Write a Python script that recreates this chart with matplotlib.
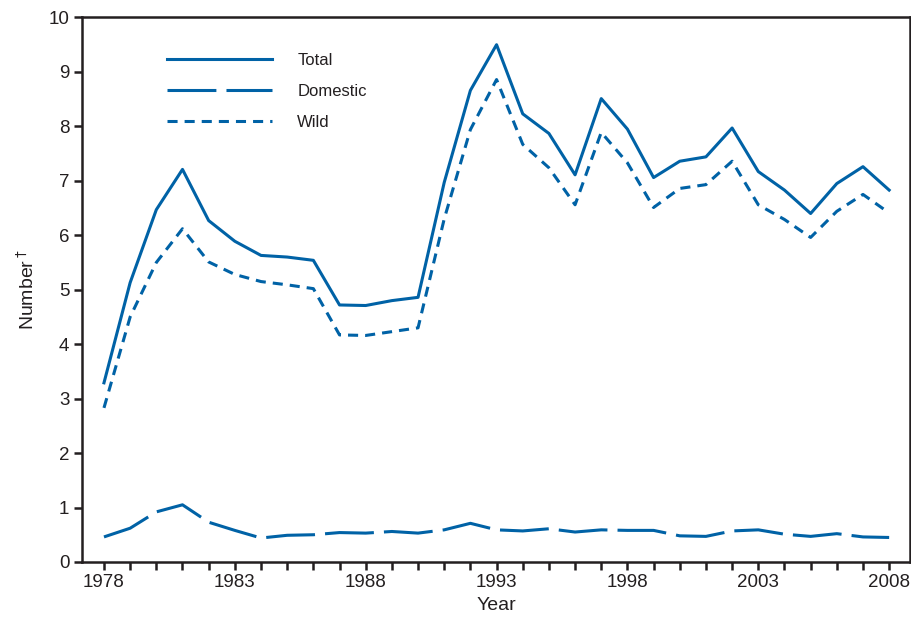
import matplotlib
matplotlib.use("Agg")
import matplotlib.pyplot as plt

plt.rcParams['font.family'] = ['Liberation Sans', 'DejaVu Sans']

years = list(range(1978, 2009))
total = [3.29, 5.13, 6.47, 7.21, 6.27, 5.89, 5.63, 5.60, 5.54, 4.72, 4.71, 4.80, 4.86,
         6.97, 8.66, 9.50, 8.23, 7.87, 7.11, 8.51, 7.95, 7.06, 7.36, 7.44, 7.97, 7.17,
         6.83, 6.40, 6.95, 7.26, 6.83]
domestic = [0.46, 0.62, 0.92, 1.05, 0.73, 0.58, 0.44, 0.49, 0.50, 0.54, 0.53, 0.56, 0.53,
            0.59, 0.71, 0.59, 0.57, 0.61, 0.55, 0.59, 0.58, 0.58, 0.48, 0.47, 0.57, 0.59,
            0.51, 0.47, 0.52, 0.46, 0.45]
wild = [2.83, 4.50, 5.50, 6.12, 5.51, 5.28, 5.15, 5.09, 5.02, 4.17, 4.16, 4.23, 4.30,
        6.30, 7.94, 8.86, 7.67, 7.24, 6.56, 7.89, 7.33, 6.51, 6.86, 6.93, 7.36, 6.56,
        6.29, 5.96, 6.44, 6.75, 6.41]

blue = '#0062a6'
dark = '#231f20'

fig = plt.figure(figsize=(9.12, 6.24), dpi=100)
ax = fig.add_axes([0.0899, 0.0994, 0.908, 0.8726])

lw = 2.2
ax.plot(years, total, color=blue, lw=lw, label='Total')
ax.plot(years, domestic, color=blue, lw=lw, dashes=(16, 3.3), label='Domestic')
ax.plot(years, wild, color=blue, lw=lw, dashes=(3.3, 2.3), label='Wild')

ax.set_xlim(1977.16, 2008.8)
ax.set_ylim(0, 10)
ax.set_xticks(years)
ax.set_xticklabels([str(y) if (y - 1978) % 5 == 0 else '' for y in years])
ax.set_yticks(range(0, 11))

for s in ax.spines.values():
    s.set_linewidth(1.8)
    s.set_color(dark)
ax.tick_params(axis='both', direction='out', length=6, width=1.8, color=dark,
               labelsize=13.5, labelcolor=dark, pad=3)

ax.set_xlabel('Year', fontsize=14, color=dark, labelpad=4)
ax.set_ylabel(r'Number$^\dagger$', fontsize=14, color=dark, labelpad=8)

leg = ax.legend(loc='upper left', bbox_to_anchor=(0.085, 0.962), frameon=False,
                fontsize=12, handlelength=6.3, handletextpad=1.5, labelspacing=0.95)
for t in leg.get_texts():
    t.set_color(dark)

fig.savefig('out.png', dpi=100)
